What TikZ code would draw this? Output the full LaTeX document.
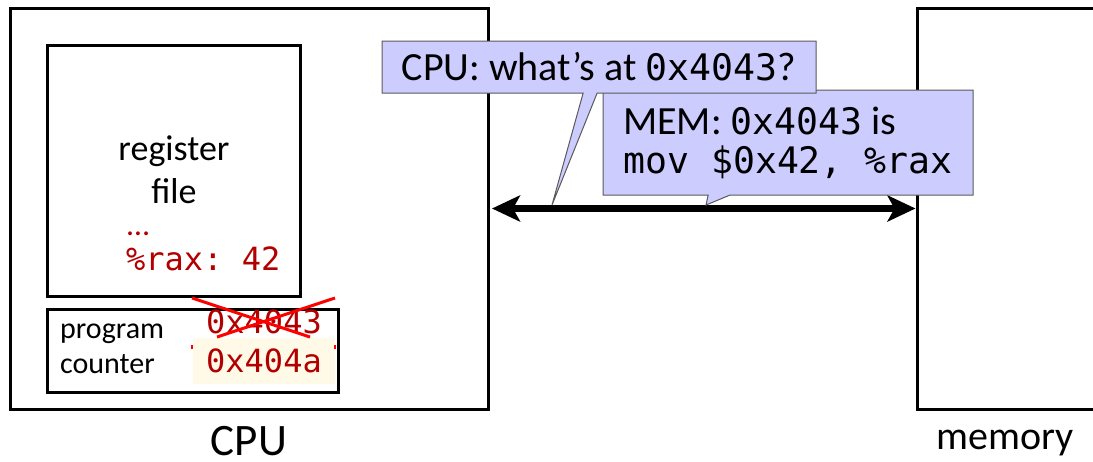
\documentclass[tikz,border=0pt]{standalone}
\usepackage{fontspec}
\setmainfont{Carlito}
\setmonofont{DejaVu Sans Mono}
\usetikzlibrary{arrows.meta,shapes.callouts}
\definecolor{regred}{RGB}{178,0,0}
\definecolor{bubblefill}{RGB}{204,204,255}
\definecolor{bubbleedge}{RGB}{90,90,90}
\definecolor{newval}{RGB}{255,250,232}
\newcommand{\setsz}[2]{\fontsize{#1}{#2}\selectfont}
\newcommand{\code}[1]{{\fontsize{36.5}{39}\selectfont\ttfamily #1}}
\begin{document}
\begin{tikzpicture}[x=1pt,y=-1pt,
  box/.style={draw, line width=3pt, inner sep=0pt},
  txt/.style={inner sep=0pt},
  regtxt/.style={inner sep=0pt, text=regred, font=\setsz{32}{36}},
  bubblebox/.style={rectangle callout, fill=bubblefill, draw=bubbleedge,
    line width=1pt, inner sep=0pt, align=left, font=\setsz{40}{39}},
  bus/.style={line width=7pt,
    {Stealth[length=28pt,width=26pt,inset=7pt]}-{Stealth[length=28pt,width=26pt,inset=7pt]}},
  strike/.style={red, line width=3pt}]
\useasboundingbox (0,0) rectangle (1093,461);

% processor and memory
\node[box, minimum width=478, minimum height=401] (cpu) at (249,208.5) {};
\node[box, minimum width=193, minimum height=401] (mem) at (1013.5,208.5) {};
\node[box, minimum width=253, minimum height=251] (regs) at (173.5,170.5) {};
\node[box, minimum width=291, minimum height=83] (pc) at (192.5,350.5) {};

% register file contents
\node[txt, anchor=base, font=\setsz{36}{40}] (rfa) at (174,160) {register};
\node[txt, anchor=base, font=\setsz{36}{40}] (rfb) at (174,203) {file};
\node[regtxt, anchor=base west] (dots) at (127,235) {…};
\node[regtxt, anchor=base west] (rax) at (126,270) {\ttfamily\%rax: 42};

% program counter
\node[txt, anchor=base west, font=\setsz{30}{34}] (pca) at (60,338) {program};
\node[txt, anchor=base west, font=\setsz{30}{34}] (pcb) at (60,373) {counter};
\node[regtxt, anchor=base west] (oldpc) at (206,333) {\ttfamily 0x4043};
\node[fill=newval, inner sep=0pt, minimum width=142, minimum height=46,
  text=regred, font=\setsz{32}{36}\ttfamily] (newpc) at (264,361) {0x404a};
\draw[strike] (192,298) -- (310,337);
\draw[strike] (335,298) -- (217,337);
\draw[red, line width=2pt] (192,345) -- (192,349);
\draw[red, line width=2pt] (335,345) -- (335,349);

% bus between processor and memory
\draw[bus, shorten <=2.5pt] (cpu.east) -- (mem.west);
\coordinate (ask) at (552,205);
\coordinate (reply) at (706,205);

% request and reply
\node[bubblebox, minimum width=370, minimum height=105,
  callout absolute pointer={(reply)}, callout pointer width=22pt] (ans) at (788,142.5)
  {MEM: \code{0x4043} is\\\code{mov \$0x42, \%rax}};
\node[bubblebox, minimum width=434, minimum height=52,
  callout absolute pointer={(ask)}, callout pointer width=14pt] (req) at (599,67)
  {CPU: what's at \code{0x4043}?};

% labels
\node[txt, anchor=base, font=\setsz{45}{50}] (cpulbl) at (249,455) {CPU};
\node[txt, anchor=base, font=\setsz{40}{45}] (memlbl) at (1005,449) {memory};
\end{tikzpicture}
\end{document}
